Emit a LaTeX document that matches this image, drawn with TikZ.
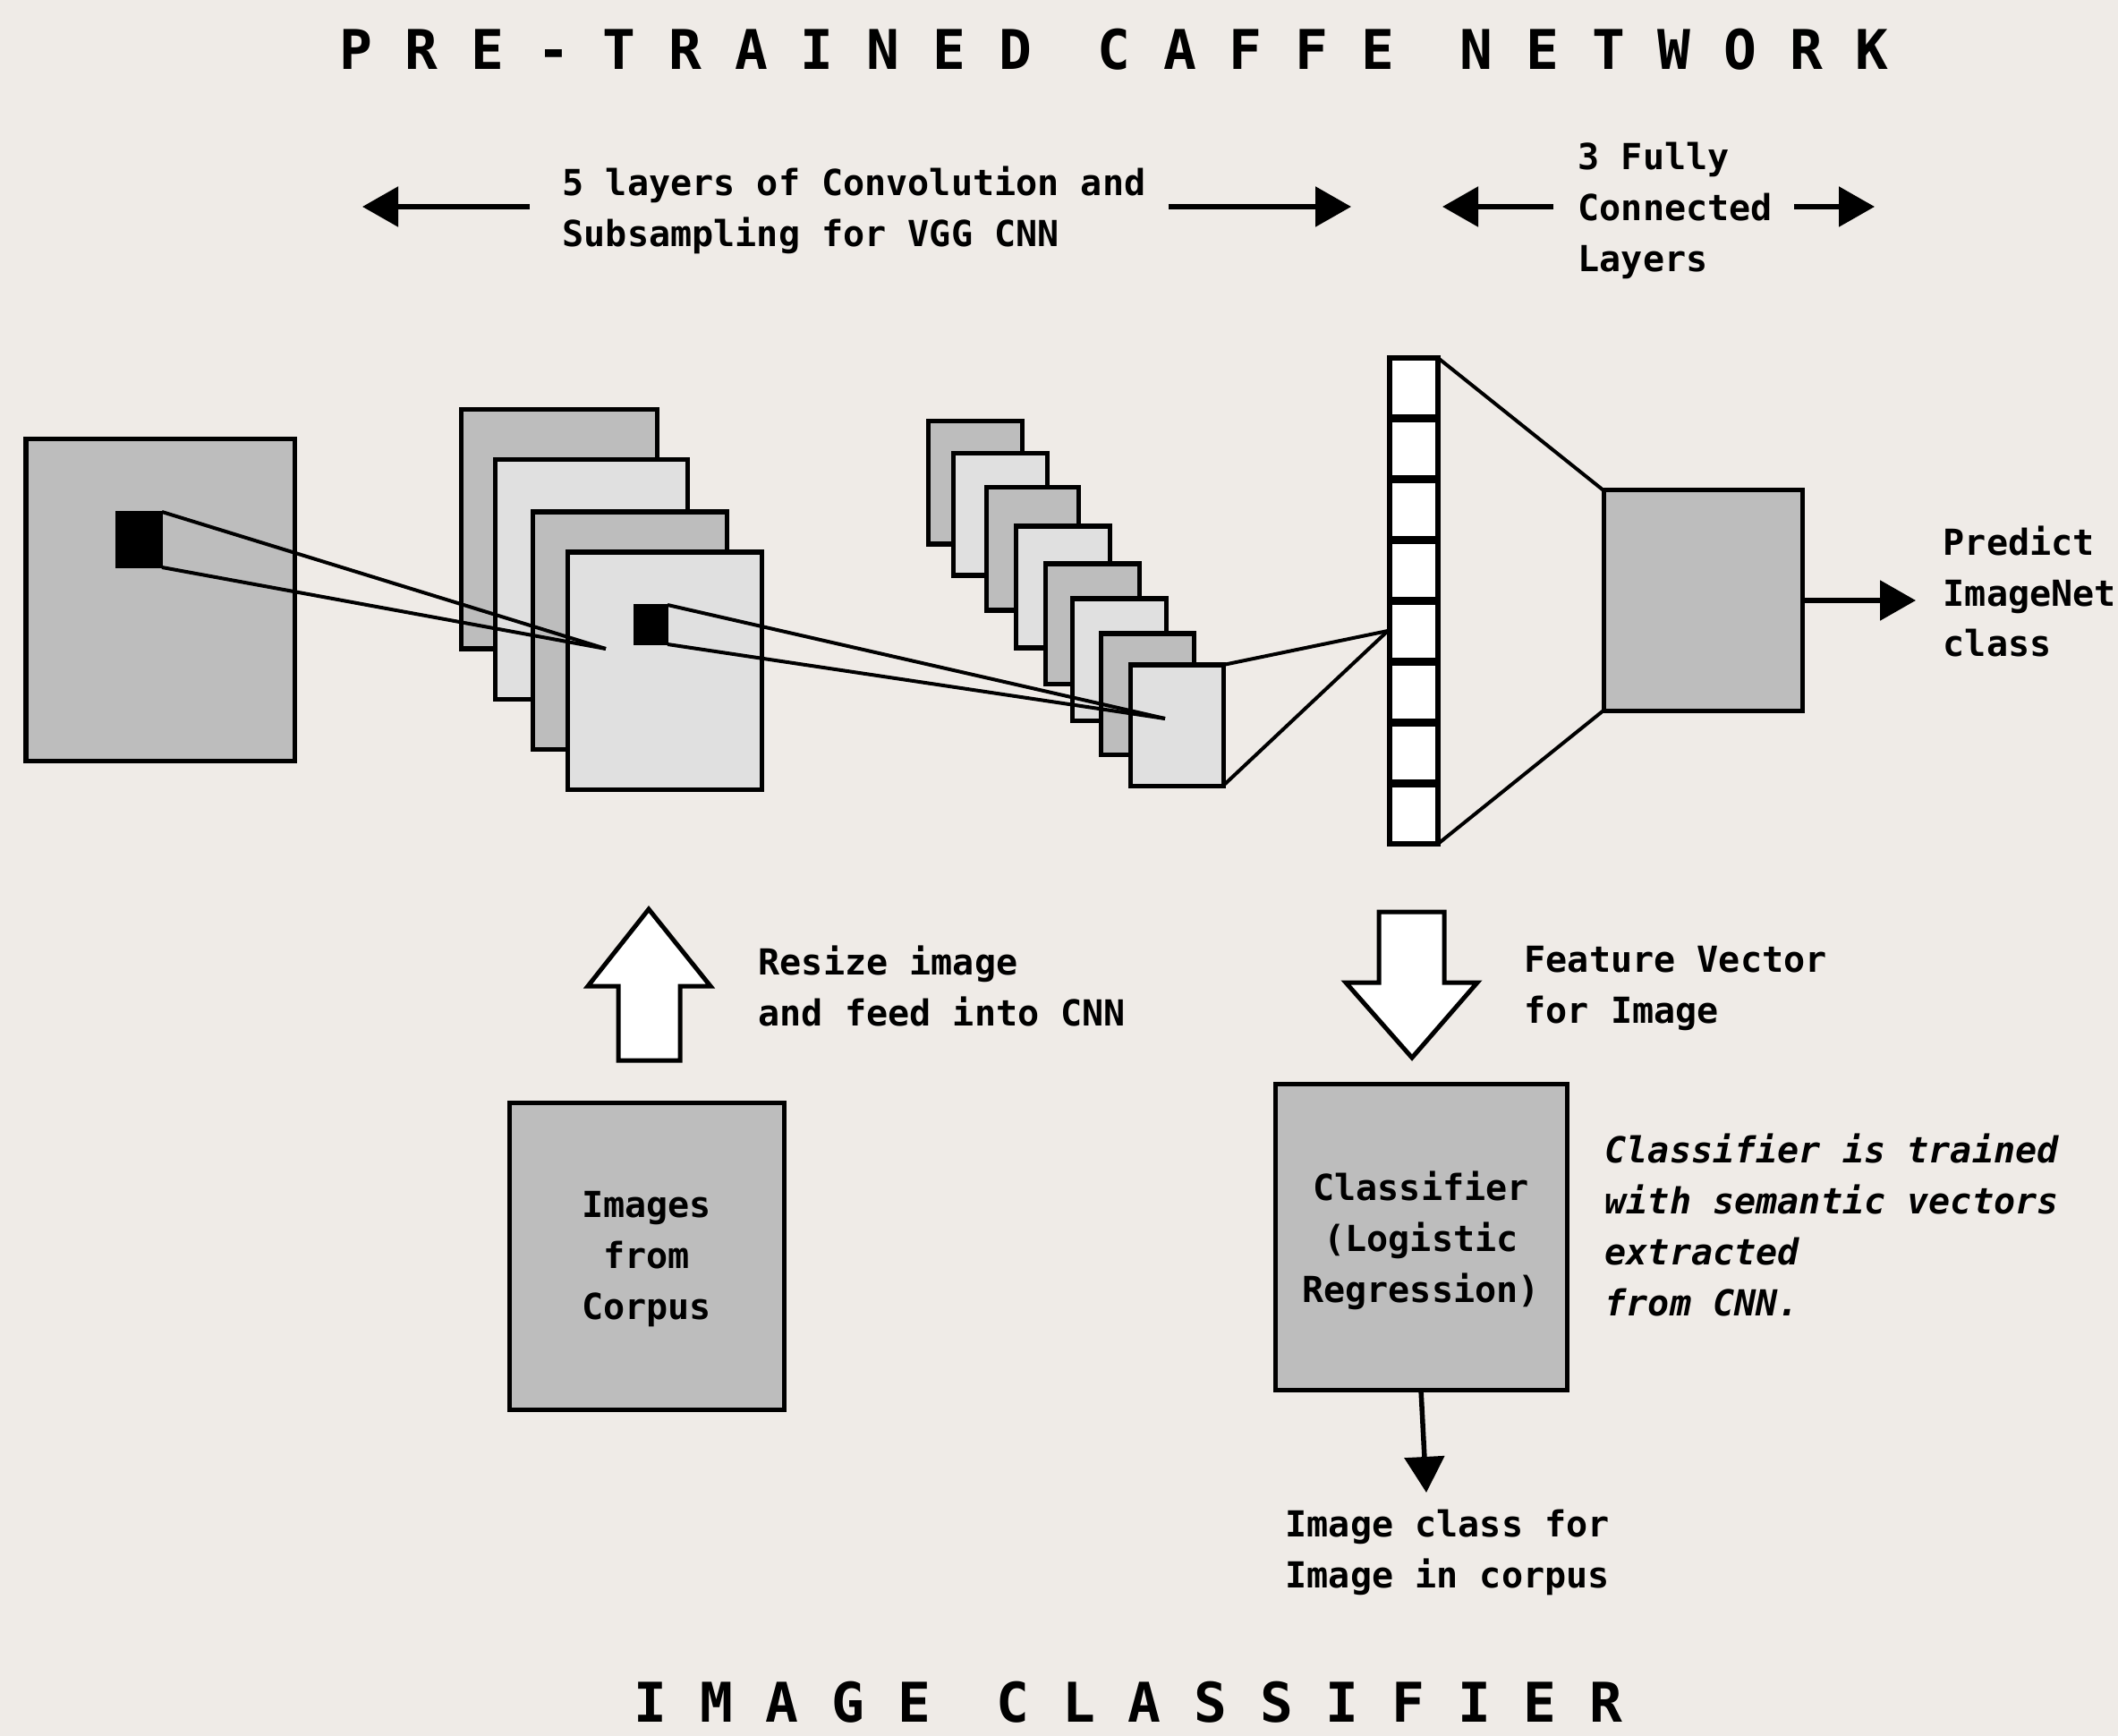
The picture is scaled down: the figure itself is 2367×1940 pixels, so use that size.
\documentclass[tikz,border=0pt]{standalone}
\usepackage{fontspec}
\setmonofont{DejaVu Sans Mono}
\usetikzlibrary{arrows.meta,fit,calc}
\definecolor{bg}{HTML}{EFEBE7}
\definecolor{dk}{HTML}{BDBDBD}
\definecolor{lt}{HTML}{E0E0E0}
\begin{document}
\begin{tikzpicture}[x=0.01cm,y=-0.01cm,
 box/.style={draw=black, line width=0.05cm, inner sep=0pt, outer sep=0pt},
 dkbox/.style={box, fill=dk},
 ltbox/.style={box, fill=lt},
 patch/.style={fill=black, draw=black, line width=0.02cm, inner sep=0pt, outer sep=0pt},
 cone/.style={line width=0.04cm},
 lbl/.style={font=\ttfamily\bfseries\fontsize{11.4pt}{16.2pt}\selectfont, inner sep=0pt, align=left, anchor=west},
 clbl/.style={font=\ttfamily\bfseries\fontsize{11.4pt}{16.2pt}\selectfont, inner sep=0pt, align=center},
 ilbl/.style={lbl, font=\ttfamily\bfseries\itshape\fontsize{11.4pt}{16.2pt}\selectfont},
 ttl/.style={font=\ttfamily\bfseries\fontsize{17.4pt}{20pt}\selectfont, inner sep=0pt},
 arr/.style={line width=0.055cm, -{Triangle[length=0.4cm,width=0.44cm]}},
 blockarrow/.style={draw=black, fill=white, line width=0.05cm, line join=miter},
 bar/.style={line width=0.09cm}]
\fill[bg] (0,0) rectangle (2367,1940);
\useasboundingbox (0,0) rectangle (2367,1940);

% titles
\node[ttl] (t1) at (1245,55) {P R E - T R A I N E D\ \ C A F F E\ \ N E T W O R K};
\node[ttl] (t2) at (1261,1902) {I M A G E\ \ C L A S S I F I E R};

% top labels and arrows
\node[lbl] (conv) at (628,235) {5 layers of Convolution and\\Subsampling for VGG CNN};
\node[lbl] (fcl) at (1763,235) {3 Fully\\Connected\\Layers};
\coordinate (a1s) at (592,231); \coordinate (a1e) at (405,231);
\coordinate (a2s) at (1306,231); \coordinate (a2e) at (1510,231);
\coordinate (a3s) at (1736,231); \coordinate (a3e) at (1612,231);
\coordinate (a4s) at (2005,231); \coordinate (a4e) at (2095,231);
\draw[arr] (a1s) -- (a1e);
\draw[arr] (a2s) -- (a2e);
\draw[arr] (a3s) -- (a3e);
\draw[arr] (a4s) -- (a4e);

% input image
\node[dkbox, fit={(29,491) (329,850)}] (inp) {};
\node[patch, fit={(130,572) (181,634)}] (p1) {};

% first stack
\node[dkbox, fit={(515,458) (734,725)}] (r1) {};
\node[ltbox, fit={(553,514) (768,781)}] (r2) {};
\node[dkbox, fit={(595,572) (812,837)}] (r3) {};
\node[ltbox, fit={(634,617) (851,882)}] (r4) {};
\node[patch, fit={(709,676) (746,720)}] (p2) {};

% second stack
\node[dkbox, fit={(1037,471) (1142,608)}] (s1) {};
\node[ltbox, fit={(1065,507) (1170,643)}] (s2) {};
\node[dkbox, fit={(1102,545) (1205,682)}] (s3) {};
\node[ltbox, fit={(1135,588) (1240,724)}] (s4) {};
\node[dkbox, fit={(1168,630) (1273,764)}] (s5) {};
\node[ltbox, fit={(1198,669) (1303,805)}] (s6) {};
\node[dkbox, fit={(1230,708) (1334,843)}] (s7) {};
\node[ltbox, fit={(1263,743) (1367,878)}] (s8) {};

% cones
\coordinate (c1) at (677,725);
\coordinate (c2) at (1302,803);
\coordinate (c3) at (1551,705);
\draw[cone] (p1.north east) -- (c1);
\draw[cone] (p1.south east) -- (c1);
\draw[cone] (p2.north east) -- (c2);
\draw[cone] (p2.south east) -- (c2);
\draw[cone] (s8.north east) -- (c3);
\draw[cone] (s8.south east) -- (c3);

% feature vector column
\node[box, fill=white, line width=0.055cm, fit={(1553,400) (1607,943)}] (vec) {};
\foreach \k in {1,...,7}
  \draw[bar] ($(vec.north west)!\k/8!(vec.south west)$) -- ($(vec.north east)!\k/8!(vec.south east)$);

% fully connected block
\node[dkbox, fit={(1792,548) (2014,794)}] (fc) {};
\draw[cone] (vec.north east) -- (fc.north west);
\draw[cone] (vec.south east) -- (fc.south west);
\coordinate (predtip) at (2141,671);
\draw[arr] (fc.east) -- (predtip);
\node[lbl] (pred) at (2171,661) {Predict\\ImageNet\\class};

% lower part
\draw[blockarrow] (691,1185) -- (691,1102) -- (657,1102) -- (725,1016) -- (794,1102) -- (760,1102) -- (760,1185) -- cycle;
\node[lbl] (resize) at (847,1102) {Resize image\\and feed into CNN};
\node[dkbox, fit={(569,1232) (876,1575)}] (corpus) {};
\node[clbl] (corpustxt) at ($(corpus.center)+(0,4)$) {Images\\from\\Corpus};

\draw[blockarrow] (1541,1019) -- (1541,1098) -- (1504,1098) -- (1578,1182) -- (1651,1098) -- (1614,1098) -- (1614,1019) -- cycle;
\node[lbl] (feat) at (1703,1105) {Feature Vector\\for Image};
\node[dkbox, fit={(1425,1211) (1751,1553)}] (cls) {};
\node[clbl] (clstxt) at ($(cls.center)+(0,4)$) {Classifier\\(Logistic\\Regression)};
\node[ilbl] (note) at (1793,1369) {Classifier is trained\\with semantic vectors\\extracted\\from CNN.};
\coordinate (clsout) at (1594,1668);
\draw[arr] (cls.south) -- (clsout);
\node[lbl] (res) at (1436,1735) {Image class for\\Image in corpus};
\end{tikzpicture}
\end{document}
